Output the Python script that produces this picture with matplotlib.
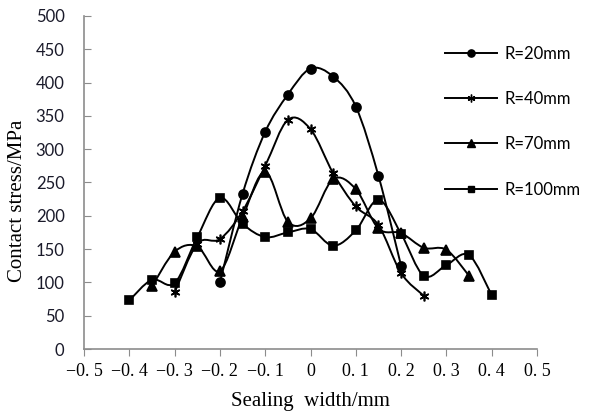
import matplotlib.pyplot as plt
from matplotlib.path import Path
from matplotlib.patches import PathPatch
from matplotlib.lines import Line2D
import numpy as np

# data
x20 = [-0.2, -0.15, -0.1, -0.05, 0, 0.05, 0.1, 0.15, 0.2]
y20 = [100, 233, 326, 382, 421, 409, 364, 260, 125]

x40 = [-0.3, -0.25, -0.2, -0.15, -0.1, -0.05, 0, 0.05, 0.1, 0.15, 0.2, 0.25]
y40 = [85, 158, 165, 207, 275, 344, 330, 264, 214, 186, 114, 80]

x70 = [-0.35, -0.3, -0.25, -0.2, -0.15, -0.1, -0.05, 0, 0.05, 0.1, 0.15, 0.2, 0.25, 0.3, 0.35]
y70 = [94, 146, 154, 117, 198, 266, 191, 196, 255, 240, 181, 174, 152, 149, 110]

x100 = [-0.4, -0.35, -0.3, -0.25, -0.2, -0.15, -0.1, -0.05, 0, 0.05, 0.1, 0.15, 0.2, 0.25, 0.3, 0.35, 0.4]
y100 = [73, 104, 99, 168, 227, 188, 168, 175, 180, 155, 178, 224, 173, 110, 126, 141, 81]

labels = ['R=20mm', 'R=40mm', 'R=70mm', 'R=100mm']
xticks = [-0.5, -0.4, -0.3, -0.2, -0.1, 0, 0.1, 0.2, 0.3, 0.4, 0.5]
xticklabels = ['\u22120. 5', '\u22120. 4', '\u22120. 3', '\u22120. 2', '\u22120. 1', '0',
               '0. 1', '0. 2', '0. 3', '0. 4', '0. 5']
yticks = list(range(0, 501, 50))

star = (6, 2, 0)
markers = ['o', star, '^', 's']
msizes = [6.5, 7, 6.5, 6]


def smooth_path(x, y):
    # excel-like smoothed line: catmull-rom segments as cubic beziers
    p = np.column_stack([x, y]).astype(float)
    n = len(p)
    verts = [p[0]]
    codes = [Path.MOVETO]
    for i in range(n - 1):
        p0 = p[i - 1] if i > 0 else p[i]
        p1 = p[i]
        p2 = p[i + 1]
        p3 = p[i + 2] if i + 2 < n else p[i + 1]
        verts += [p1 + (p2 - p0) / 6.0, p2 - (p3 - p1) / 6.0, p2]
        codes += [Path.CURVE4] * 3
    return Path(verts, codes)


fig = plt.figure(figsize=(5.92, 4.19), dpi=100)
ax = fig.add_axes([0.142, 0.167, 0.765, 0.795])

series = [(x20, y20), (x40, y40), (x70, y70), (x100, y100)]
for (xs, ys), m, ms in zip(series, markers, msizes):
    ax.add_patch(PathPatch(smooth_path(xs, ys), fill=False, edgecolor='black', lw=1.4))
    ax.plot(xs, ys, linestyle='none', marker=m, markersize=ms, color='black',
            markeredgewidth=1.2)

ax.set_xlim(-0.5, 0.5)
ax.set_ylim(0, 500)

for s in ['top', 'right']:
    ax.spines[s].set_visible(False)
for s in ['left', 'bottom']:
    ax.spines[s].set_color('#8c8c8c')
    ax.spines[s].set_linewidth(1.2)

ax.set_xticks(xticks)
ax.set_xticklabels(xticklabels, fontfamily='Liberation Serif', fontsize=13)
ax.set_yticks(yticks)
ax.set_yticklabels([str(v) for v in yticks], fontfamily='Lato', fontsize=12, color='#1a1a2a')
ax.tick_params(axis='x', direction='out', length=5, color='#8c8c8c', pad=5)
ax.tick_params(axis='y', direction='in', length=5, color='#8c8c8c', pad=14)

ax.set_xlabel('Sealing  width/mm', fontfamily='Liberation Serif', fontsize=15, labelpad=9)
ax.set_ylabel('Contact stress/MPa', fontfamily='Liberation Serif', fontsize=15)
ax.yaxis.set_label_coords(-0.126, 0.444)

handles = [Line2D([], [], color='black', lw=1.4, marker=m, markersize=ms * 0.8)
           for m, ms in zip(markers, msizes)]
fig.legend(handles, labels, loc='upper left', bbox_to_anchor=(445 / 592, 1 - 46 / 419),
           frameon=False, handlelength=3.1, handletextpad=0.5, labelspacing=1.75,
           borderpad=0, borderaxespad=0, prop={'family': 'Lato', 'size': 12})

plt.savefig('out.png', dpi=100)
